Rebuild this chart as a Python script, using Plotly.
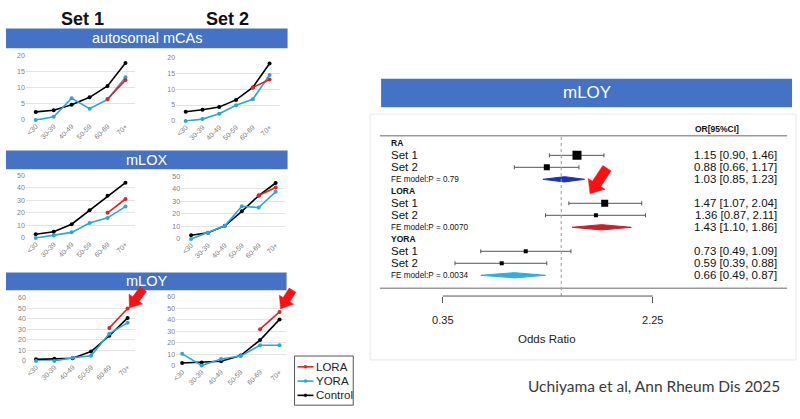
import math
import plotly.graph_objects as go

W, H = 800, 419


def px(x):
    return x / W


def py(y):
    return 1 - y / H


# ---------------- data: prevalence by age group (%) ----------------
age_groups = ["<30", "30-39", "40-49", "50-59", "60-69", "70+"]

auto_s1_control = [2.5, 3.0, 4.7, 7.0, 10.5, 17.6]
auto_s1_yora = [0.0, 1.0, 6.7, 3.5, 6.3, 13.2]
auto_s1_lora = [None, None, None, None, 6.5, 12.3]
auto_s2_control = [2.9, 3.5, 4.4, 6.6, 10.5, 18.0]
auto_s2_yora = [0.0, 0.6, 2.3, 4.9, 6.8, 14.4]
auto_s2_lora = [None, None, None, None, 10.5, 13.0]

mlox_s1_control = [3.0, 5.0, 11.0, 22.0, 33.5, 44.0]
mlox_s1_yora = [0.0, 2.0, 4.5, 12.0, 16.0, 25.0]
mlox_s1_lora = [None, None, None, None, 20.0, 31.0]
mlox_s2_control = [3.0, 5.0, 10.5, 22.0, 34.5, 44.5]
mlox_s2_yora = [0.0, 5.0, 10.5, 26.0, 25.0, 37.5]
mlox_s2_lora = [None, None, None, None, 34.5, 41.0]

mloy_s1_control = [1.5, 2.0, 2.5, 9.0, 24.0, 41.0]
mloy_s1_yora = [0.0, 0.0, 3.0, 5.0, 26.0, 36.5]
mloy_s1_lora = [None, None, None, None, 31.5, 50.0]
mloy_s2_control = [2.5, 3.0, 4.0, 9.0, 22.5, 40.5]
mloy_s2_yora = [10.5, 0.3, 6.0, 8.5, 18.0, 18.0]
mloy_s2_lora = [None, None, None, None, 32.0, 47.0]

legend_names = ["LORA", "YORA", "Control"]

# ---------------- data: forest plot (mLOY) ----------------
groups = ["RA", "LORA", "YORA"]
fe_p = ["0.79", "0.0070", "0.0034"]
set1_or = [1.15, 1.47, 0.73]
set1_lo = [0.90, 1.07, 0.49]
set1_hi = [1.46, 2.04, 1.09]
set2_or = [0.88, 1.36, 0.59]
set2_lo = [0.66, 0.87, 0.39]
set2_hi = [1.17, 2.11, 0.88]
fe_or = [1.03, 1.43, 0.66]
fe_lo = [0.85, 1.10, 0.49]
fe_hi = [1.23, 1.86, 0.87]
set1_size = [9, 7, 4]
set2_size = [6, 4, 4]
forest_ticks = [0.35, 2.25]

FONT = "Liberation Sans, Arial, sans-serif"
C_LORA = "#ee1c1c"
C_YORA = "#22a8e2"
C_CTRL = "#000000"
BANNER = "#4472c4"
COLORS = {"LORA": C_LORA, "YORA": C_YORA, "Control": C_CTRL}

fig = go.Figure()
layout = dict(
    width=W, height=H, margin=dict(l=0, r=0, t=0, b=0),
    paper_bgcolor="white", plot_bgcolor="white",
    font=dict(family=FONT, color="#222"),
    showlegend=False,
)

# panel geometry in pixels: x0, x1, ytop, ybottom, xrange, ymax, dtick
panels = [
    (auto_s1_control, auto_s1_yora, auto_s1_lora, (22, 132, 52, 118), (-0.55, 5.55), 20, 5),
    (auto_s2_control, auto_s2_yora, auto_s2_lora, (173, 277, 54, 119), (-0.57, 5.6), 20, 5),
    (mlox_s1_control, mlox_s1_yora, mlox_s1_lora, (22, 132, 174, 238), (-0.55, 5.55), 50, 10),
    (mlox_s2_control, mlox_s2_yora, mlox_s2_lora, (178, 282, 175, 239), (-0.59, 5.53), 50, 10),
    (mloy_s1_control, mloy_s1_yora, mloy_s1_lora, (23, 132, 299, 363), (-0.5, 5.42), 60, 10),
    (mloy_s2_control, mloy_s2_yora, mloy_s2_lora, (173, 283, 298, 368), (-0.31, 5.31), 60, 10),
]

for k, (ctrl, yora, lora, (x0, x1, yt, yb), xr, ymax, dt) in enumerate(panels, start=1):
    xa = "x" if k == 1 else f"x{k}"
    ya = "y" if k == 1 else f"y{k}"
    for name, vals in [("Control", ctrl), ("YORA", yora), ("LORA", lora)]:
        col = COLORS[name]
        fig.add_trace(go.Scatter(
            x=age_groups, y=vals, mode="lines+markers", name=name,
            line=dict(color=col, width=1.6), marker=dict(color=col, size=4),
            xaxis=xa, yaxis=ya, cliponaxis=False,
        ))
    layout["xaxis" if k == 1 else f"xaxis{k}"] = dict(
        domain=[px(x0), px(x1)], range=list(xr), type="category",
        categoryorder="array", categoryarray=age_groups,
        tickangle=-45, tickfont=dict(size=7, color="#808080"),
        showgrid=False, showline=False, zeroline=False, ticks="",
        anchor=ya, fixedrange=True,
    )
    layout["yaxis" if k == 1 else f"yaxis{k}"] = dict(
        domain=[py(yb), py(yt)], range=[0, ymax], dtick=dt,
        tickfont=dict(size=7, color="#808080"), gridcolor="#e3e3e3", gridwidth=1,
        showline=False, zeroline=False, ticks="", anchor=xa, fixedrange=True,
    )

# ---------------- forest plot ----------------
row_top_px, row_step = 141.7, 12.2
f_top, f_bot = 134, 289
y_lo_row = (f_top - row_top_px) / row_step
y_hi_row = (f_bot - row_top_px) / row_step
fx0, fx1 = 378, 787
lg035, lg225 = math.log10(forest_ticks[0]), math.log10(forest_ticks[1])
scale = (652 - 441) / (lg225 - lg035)
xr_lo = lg035 - (441 - fx0) / scale
xr_hi = lg225 + (fx1 - 652) / scale

layout["xaxis7"] = dict(
    domain=[px(fx0), px(fx1)], type="log", range=[xr_lo, xr_hi],
    tickvals=forest_ticks, ticktext=[f"{t:.2f}" for t in forest_ticks],
    ticks="outside", ticklen=6, tickcolor="#555", tickwidth=1,
    tickfont=dict(size=11, color="#222"), ticklabelstandoff=8,
    showgrid=False, showline=False, zeroline=False,
    anchor="free", position=py(297), fixedrange=True,
)
layout["yaxis7"] = dict(
    domain=[py(f_bot), py(f_top)], range=[y_hi_row, y_lo_row],
    visible=False, anchor="x7", fixedrange=True,
)

diamond_cols = ["#1c2fc0", "#cc1f24", "#2bb0e0"]
annotations = []


def note(x, y, text, size, color="#111", xanchor="center", yref="paper", family=None, **kw):
    f = dict(size=size, color=color)
    if family:
        f["family"] = family
    annotations.append(dict(x=x, y=y, xref="paper", yref=yref, text=text, showarrow=False,
                            xanchor=xanchor, yanchor="middle", font=f, **kw))


for g, grp in enumerate(groups):
    base = g * 4
    for j, (o, lo, hi, sz) in enumerate([
        (set1_or[g], set1_lo[g], set1_hi[g], set1_size[g]),
        (set2_or[g], set2_lo[g], set2_hi[g], set2_size[g]),
    ]):
        r = base + 1 + j
        fig.add_trace(go.Scatter(
            x=[o], y=[r], mode="markers", xaxis="x7", yaxis="y7",
            marker=dict(symbol="square", size=sz, color="black"),
            error_x=dict(type="data", symmetric=False, array=[hi - o], arrayminus=[o - lo],
                         color="#555", thickness=1, width=2),
        ))
    r = base + 3
    h = 0.22
    fig.add_trace(go.Scatter(
        x=[fe_lo[g], fe_or[g], fe_hi[g], fe_or[g], fe_lo[g]],
        y=[r, r - h, r, r + h, r], mode="lines", fill="toself",
        fillcolor=diamond_cols[g], line=dict(color=diamond_cols[g], width=1),
        xaxis="x7", yaxis="y7",
    ))
    note(px(387), base, f"<b>{grp}</b>", 8.5, xanchor="left", yref="y7")
    note(px(387), base + 1, "Set 1", 11.5, xanchor="left", yref="y7")
    note(px(387), base + 2, "Set 2", 11.5, xanchor="left", yref="y7")
    note(px(387), base + 3, f"FE model:P = {fe_p[g]}", 8.2, xanchor="left", yref="y7")
    for j, (o, lo, hi) in enumerate([
        (set1_or[g], set1_lo[g], set1_hi[g]),
        (set2_or[g], set2_lo[g], set2_hi[g]),
        (fe_or[g], fe_lo[g], fe_hi[g]),
    ]):
        note(px(779), base + 1 + j, f"{o:.2f} [{lo:.2f}, {hi:.2f}]", 11.5, xanchor="right", yref="y7")

note(px(692), py(127), "<b>OR[95%CI]</b>", 8.5, xanchor="left")
note(px(546), py(341), "Odds Ratio", 11.5, color="#222")
note(px(525), py(388), "Uchiyama et al, Ann Rheum Dis 2025", 15.5, color="#3a3a3a",
     xanchor="left", family="Lato, Liberation Sans, sans-serif")

note(px(79), py(15), "<b>Set 1</b>", 18)
note(px(225), py(15), "<b>Set 2</b>", 18)

shapes = []
banners = [
    ("autosomal mCAs", 2, 285, 25, 45, 14.5),
    ("mLOX", 2, 285, 149, 168, 14.5),
    ("mLOY", 2, 284, 273, 291, 14.5),
    ("mLOY", 379, 792, 76, 105, 17),
]
for text, bx0, bx1, by0, by1, fs in banners:
    shapes.append(dict(type="rect", xref="paper", yref="paper", x0=px(bx0), x1=px(bx1),
                       y0=py(by1), y1=py(by0), fillcolor=BANNER, line=dict(width=0), layer="below"))
    note(px((bx0 + bx1) / 2), py((by0 + by1) / 2), text, fs, color="white")

# forest frame lines
shapes.append(dict(type="rect", xref="paper", yref="paper", x0=px(368), x1=px(796), y0=py(362), y1=py(112),
                   line=dict(color="#e8e8e8", width=1), layer="below"))
for yy in (f_top, f_bot):
    shapes.append(dict(type="line", xref="paper", yref="paper", x0=px(fx0), x1=px(fx1), y0=py(yy), y1=py(yy),
                       line=dict(color="#9a9a9a", width=1.5)))
shapes.append(dict(type="line", xref="x7", yref="paper", x0=1, x1=1, y0=py(297), y1=py(f_top),
                   line=dict(color="#999", width=1, dash="dot")))
shapes.append(dict(type="line", xref="x7", yref="paper", x0=forest_ticks[0], x1=forest_ticks[1],
                   y0=py(297), y1=py(297), line=dict(color="#555", width=1)))

# manual legend box
lx0, lx1, ly0, ly1 = 292, 351, 358, 408
shapes.append(dict(type="rect", xref="paper", yref="paper", x0=px(lx0), x1=px(lx1), y0=py(ly1), y1=py(ly0),
                   line=dict(color="#555", width=1), fillcolor="white"))
for i, name in enumerate(legend_names):
    yy = 369 + i * 14.5
    col = COLORS[name]
    shapes.append(dict(type="line", xref="paper", yref="paper", x0=px(295), x1=px(311), y0=py(yy), y1=py(yy),
                       line=dict(color=col, width=1.6)))
    shapes.append(dict(type="circle", xref="paper", yref="paper", x0=px(301.5), x1=px(304.5),
                       y0=py(yy + 1.5), y1=py(yy - 1.5), fillcolor=col, line=dict(color=col, width=0.5)))
    note(px(311.5), py(yy), name, 11.5, color="#222", xanchor="left")


# red block arrows
def arrow(tip, tail, head_len=11, head_w=17, shaft_w=8):
    tx, ty = tip
    dx, dy = tail[0] - tx, tail[1] - ty
    L = math.hypot(dx, dy)
    ux, uy = dx / L, dy / L
    nx, ny = -uy, ux
    pts = [
        (tx, ty),
        (tx + ux * head_len + nx * head_w / 2, ty + uy * head_len + ny * head_w / 2),
        (tx + ux * head_len + nx * shaft_w / 2, ty + uy * head_len + ny * shaft_w / 2),
        (tx + ux * L + nx * shaft_w / 2, ty + uy * L + ny * shaft_w / 2),
        (tx + ux * L - nx * shaft_w / 2, ty + uy * L - ny * shaft_w / 2),
        (tx + ux * head_len - nx * shaft_w / 2, ty + uy * head_len - ny * shaft_w / 2),
        (tx + ux * head_len - nx * head_w / 2, ty + uy * head_len - ny * head_w / 2),
    ]
    path = "M " + " L ".join(f"{px(a):.5f},{py(b):.5f}" for a, b in pts) + " Z"
    return dict(type="path", xref="paper", yref="paper", path=path,
                fillcolor="#ff1010", line=dict(color="#ff1010", width=0.5))


shapes.append(arrow((126, 309), (140, 290)))
shapes.append(arrow((278, 310), (290, 291)))
shapes.append(arrow((589, 193), (606, 167), head_len=12, head_w=20, shaft_w=10))

layout["shapes"] = shapes
layout["annotations"] = annotations

fig.update_layout(**layout)
fig.write_html("out.html")
